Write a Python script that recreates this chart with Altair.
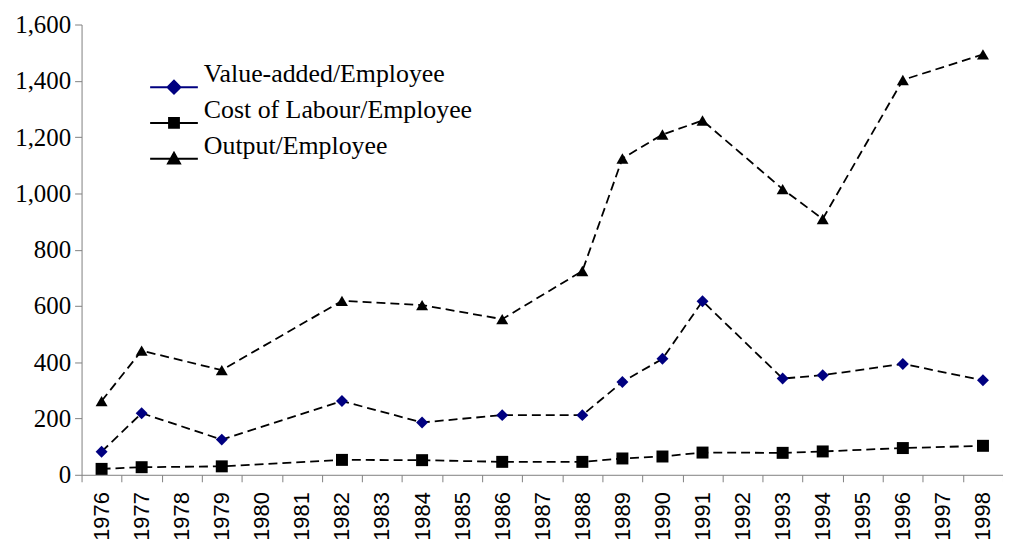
import altair as alt
import pandas as pd

all_years = list(range(1976, 1999))
years = [1976, 1977, 1979, 1982, 1984, 1986, 1988, 1989, 1990, 1991, 1993, 1994, 1996, 1998]
value_added = [82, 219, 125, 262, 186, 212, 212, 330, 412, 617, 342, 354, 394, 336]
cost_labour = [21, 27, 30, 53, 52, 46, 46, 58, 65, 79, 78, 83, 95, 103]
output = [262, 441, 372, 618, 603, 553, 724, 1124, 1209, 1259, 1015, 909, 1403, 1494]

series_names = ["Value-added/Employee", "Cost of Labour/Employee", "Output/Employee"]
series_values = [value_added, cost_labour, output]
marker_colors = ["#000080", "#000000", "#000000"]
marker_shapes = ["diamond", "square", "triangle-up"]
legend_paths = [
    "M-1.6,0H1.6M-0.43,0L0,-0.43L0.43,0L0,0.43Z",
    "M-1.6,0H1.6M-0.33,-0.33H0.33V0.33H-0.33Z",
    "M-1.6,0H1.6M-0.4,0.32L0,-0.4L0.4,0.32Z",
]
y_ticks = list(range(0, 1601, 200))

rows = []
for name, vals in zip(series_names, series_values):
    for yr, v in zip(years, vals):
        rows.append({"year": yr, "value": v, "series": name})
df = pd.DataFrame(rows)

x_enc = alt.X(
    "year:O",
    scale=alt.Scale(type="band", domain=all_years, paddingInner=0, paddingOuter=0),
    bandPosition=0.5,
    axis=alt.Axis(
        title=None,
        labelAngle=-90,
        labelFont="Liberation Sans",
        labelFontSize=22,
        labelColor="#000000",
        tickBand="extent",
        tickSize=7,
        tickColor="#808080",
        domainColor="#808080",
        labelPadding=10,
    ),
)
y_enc = alt.Y(
    "value:Q",
    scale=alt.Scale(domain=[0, 1600], nice=False),
    axis=alt.Axis(
        title=None,
        values=y_ticks,
        format=",d",
        grid=False,
        labelFont="Liberation Serif",
        labelFontSize=25,
        labelColor="#000000",
        tickSize=7,
        tickColor="#808080",
        domainColor="#808080",
        labelPadding=4,
    ),
)

base = alt.Chart(df)

lines = base.mark_line(
    color="#000000", strokeDash=[9, 5], strokeWidth=1.8, opacity=1
).encode(x=x_enc, y=y_enc, detail="series:N")

points = base.mark_point(filled=True, opacity=1, size=145).encode(
    x=x_enc,
    y=y_enc,
    color=alt.Color(
        "series:N",
        scale=alt.Scale(domain=series_names, range=marker_colors),
        legend=None,
    ),
    shape=alt.Shape(
        "series:N",
        scale=alt.Scale(domain=series_names, range=marker_shapes),
        legend=None,
    ),
)

legend_layers = []
for i, (name, col, path) in enumerate(zip(series_names, marker_colors, legend_paths)):
    leg = alt.Legend(
        title=None,
        orient="none",
        legendX=77,
        legendY=47 + 36 * i,
        padding=0,
        labelFont="Liberation Serif",
        labelFontSize=26,
        labelColor="#000000",
        labelBaseline="bottom",
        labelOffset=14,
        symbolSize=900,
        symbolStrokeWidth=2,
        symbolOpacity=1,
        labelLimit=400,
    )
    layer = (
        base.transform_filter(alt.datum.series == name)
        .transform_filter("false")
        .mark_point(filled=True, fill=col, stroke=col, strokeWidth=2, opacity=1)
        .encode(
            x=x_enc,
            y=y_enc,
            shape=alt.Shape(
                "series:N",
                scale=alt.Scale(domain=[name], range=[path]),
                legend=leg,
            ),
        )
    )
    legend_layers.append(layer)

chart = (
    alt.layer(lines, points, *legend_layers)
    .resolve_scale(shape="independent")
    .properties(
        width=927,
        height=453,
        padding={"left": 74, "top": 15, "right": 0, "bottom": 66},
        autosize=alt.AutoSizeParams(type="none"),
        background="#ffffff",
    )
    .configure_view(stroke=None)
)

chart.save("out.html", embed_options={"renderer": "svg", "actions": False})
